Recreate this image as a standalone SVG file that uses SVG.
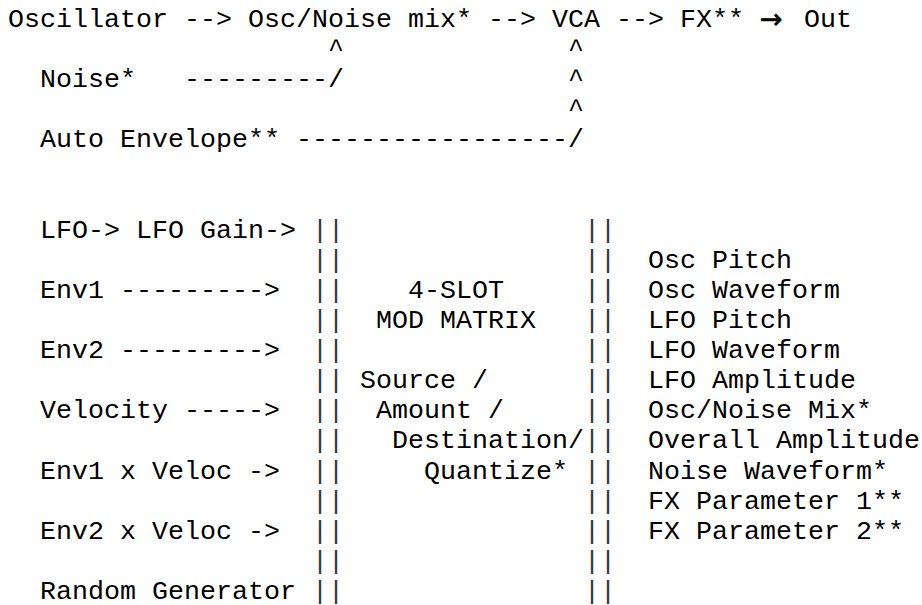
<svg xmlns="http://www.w3.org/2000/svg" width="922" height="605" viewBox="0 0 922 605">
<style>
text{font-family:"Liberation Mono","Courier New",monospace;font-size:26.667px;fill:#000;white-space:pre}
.arr{font-family:"DejaVu Sans",sans-serif;font-size:27px;stroke:#000;stroke-width:0.6}
.bar{fill:#333}
</style>
<rect width="922" height="605" fill="#fff"/>
<g id="connectors">
<text x="184" y="27">--&gt;</text>
<text x="488" y="27">--&gt;</text>
<text x="616" y="27">--&gt;</text>
<text class="arr" x="760" y="28">→</text>
<text x="328" y="57.1">^</text>
<text x="568" y="57.1">^</text>
<text x="184" y="87.2">---------/</text>
<text x="568" y="87.2">^</text>
<text x="568" y="117.3">^</text>
<text x="296" y="147.4">-----------------/</text>
<text x="88" y="237.7">-&gt;</text>
<text x="264" y="237.7">-&gt;</text>
<text x="120" y="297.9">---------&gt;</text>
<text x="120" y="358.1">---------&gt;</text>
<text x="184" y="418.3">-----&gt;</text>
<text x="248" y="478.5">-&gt;</text>
<text x="248" y="538.7">-&gt;</text>
</g>
<g id="oscillator"><text x="8" y="27">Oscillator</text></g>
<g id="osc-noise-mix"><text x="248" y="27">Osc/Noise mix*</text></g>
<g id="vca"><text x="552" y="27">VCA</text></g>
<g id="fx"><text x="680" y="27">FX**</text></g>
<g id="out"><text x="804" y="27">Out</text></g>
<g id="noise"><text x="40" y="87.2">Noise*</text></g>
<g id="auto-envelope"><text x="40" y="147.4">Auto Envelope**</text></g>
<g id="lfo"><text x="40" y="237.7">LFO</text></g>
<g id="lfo-gain"><text x="136" y="237.7">LFO Gain</text></g>
<g id="env1"><text x="40" y="297.9">Env1</text></g>
<g id="env2"><text x="40" y="358.1">Env2</text></g>
<g id="velocity"><text x="40" y="418.3">Velocity</text></g>
<g id="env1-veloc"><text x="40" y="478.5">Env1 x Veloc</text></g>
<g id="env2-veloc"><text x="40" y="538.7">Env2 x Veloc</text></g>
<g id="random"><text x="40" y="598.9">Random Generator</text></g>
<g id="mod-matrix">
<text class="bar"><tspan x="312" y="237.7">||</tspan><tspan x="312" y="267.8">||</tspan><tspan x="312" y="297.9">||</tspan><tspan x="312" y="328">||</tspan><tspan x="312" y="358.1">||</tspan><tspan x="312" y="388.2">||</tspan><tspan x="312" y="418.3">||</tspan><tspan x="312" y="448.4">||</tspan><tspan x="312" y="478.5">||</tspan><tspan x="312" y="508.6">||</tspan><tspan x="312" y="538.7">||</tspan><tspan x="312" y="568.8">||</tspan><tspan x="312" y="598.9">||</tspan></text>
<text class="bar"><tspan x="584" y="237.7">||</tspan><tspan x="584" y="267.8">||</tspan><tspan x="584" y="297.9">||</tspan><tspan x="584" y="328">||</tspan><tspan x="584" y="358.1">||</tspan><tspan x="584" y="388.2">||</tspan><tspan x="584" y="418.3">||</tspan><tspan x="584" y="448.4">||</tspan><tspan x="584" y="478.5">||</tspan><tspan x="584" y="508.6">||</tspan><tspan x="584" y="538.7">||</tspan><tspan x="584" y="568.8">||</tspan><tspan x="584" y="598.9">||</tspan></text>
<text x="408" y="297.9">4-SLOT</text>
<text x="376" y="328">MOD MATRIX</text>
<text x="360" y="388.2">Source /</text>
<text x="376" y="418.3">Amount /</text>
<text x="392" y="448.4">Destination/</text>
<text x="424" y="478.5">Quantize*</text>
</g>
<g id="destinations">
<text x="648" y="267.8">Osc Pitch</text>
<text x="648" y="297.9">Osc Waveform</text>
<text x="648" y="328">LFO Pitch</text>
<text x="648" y="358.1">LFO Waveform</text>
<text x="648" y="388.2">LFO Amplitude</text>
<text x="648" y="418.3">Osc/Noise Mix*</text>
<text x="648" y="448.4">Overall Amplitude</text>
<text x="648" y="478.5">Noise Waveform*</text>
<text x="648" y="508.6">FX Parameter 1**</text>
<text x="648" y="538.7">FX Parameter 2**</text>
</g>
</svg>
